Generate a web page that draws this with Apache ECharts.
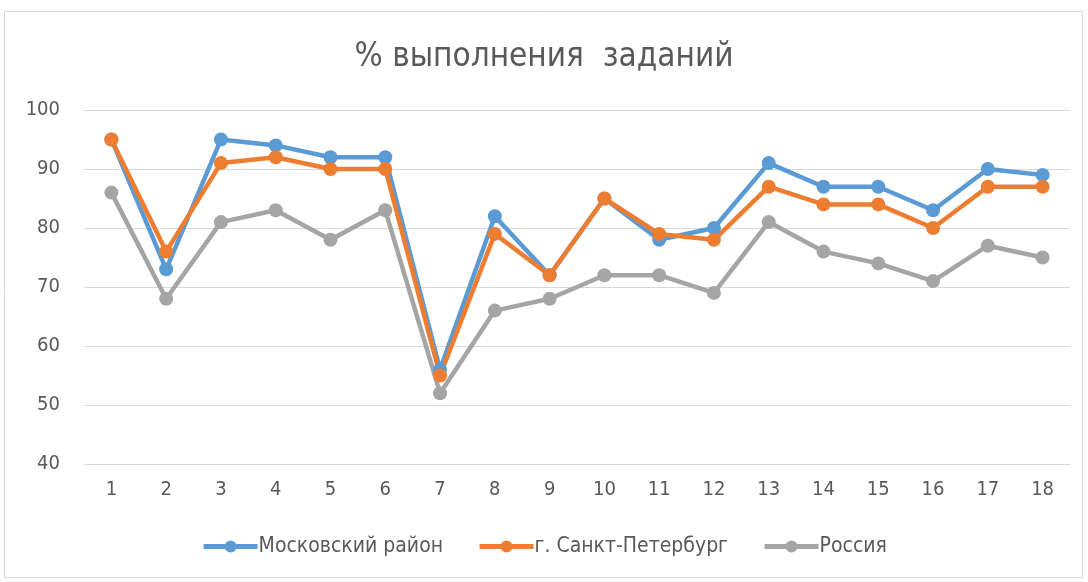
<!DOCTYPE html>
<html><head><meta charset="utf-8">
<script src="https://cdn.jsdelivr.net/npm/echarts@6/dist/echarts.min.js"></script>
<style>html,body{margin:0;padding:0;background:#fff}#c{width:1088px;height:582px}</style>
</head><body><div id="c"></div>
<script>
const categories = ['1','2','3','4','5','6','7','8','9','10','11','12','13','14','15','16','17','18'];
const moscowDistrict = [95, 73, 95, 94, 92, 92, 56, 82, 72, 85, 78, 80, 91, 87, 87, 83, 90, 89];
const spb = [95, 76, 91, 92, 90, 90, 55, 79, 72, 85, 79, 78, 87, 84, 84, 80, 87, 87];
const russia = [86, 68, 81, 83, 78, 83, 52, 66, 68, 72, 72, 69, 81, 76, 74, 71, 77, 75];
const seriesNames = ['Московский район', 'г. Санкт-Петербург', 'Россия'];
const colors = ['#5B9BD5', '#ED7D31', '#A5A5A5'];
const FONT = '"Liberation Sans Narrow","DejaVu Sans Condensed","Noto Sans",sans-serif';
const chart = echarts.init(document.getElementById('c'));
function mk(name, data, color){
  return {name, type:'line', data, symbol:'circle', symbolSize:14,
    lineStyle:{width:4.5,color}, itemStyle:{color}, emphasis:{disabled:true}, z: 2};
}
chart.setOption({
  animation:false,
  color: colors,
  graphic:[{type:'rect', shape:{x:4.5,y:11.5,width:1078,height:566}, style:{fill:'none',stroke:'#D9D9D9',lineWidth:1}, silent:true}],
  title:{text:'% выполнения  заданий', left:'center', top:36,
    textStyle:{fontFamily:FONT, fontSize:33, fontWeight:'normal', color:'#595959'}},
  grid:{left:84, right:18, top:110, bottom:118},
  legend:{bottom:20, left:'center', itemWidth:54, itemHeight:15, itemGap:34,
    lineStyle:{width:5},
    textStyle:{fontFamily:FONT, fontSize:21, color:'#595959', padding:[0,0,0,-4]},
    data: seriesNames},
  xAxis:{type:'category', data:categories, boundaryGap:true,
    axisLine:{lineStyle:{color:'#D9D9D9',width:1}}, axisTick:{show:false},
    axisLabel:{fontFamily:FONT, fontSize:20, color:'#595959', margin:16}},
  yAxis:{type:'value', min:40, max:100, interval:10,
    axisLine:{show:false}, axisTick:{show:false},
    splitLine:{lineStyle:{color:'#D9D9D9',width:1}},
    axisLabel:{fontFamily:FONT, fontSize:20, color:'#595959', margin:24}},
  series:[mk(seriesNames[0], moscowDistrict, colors[0]), mk(seriesNames[1], spb, colors[1]), mk(seriesNames[2], russia, colors[2])]
});
</script></body></html>
